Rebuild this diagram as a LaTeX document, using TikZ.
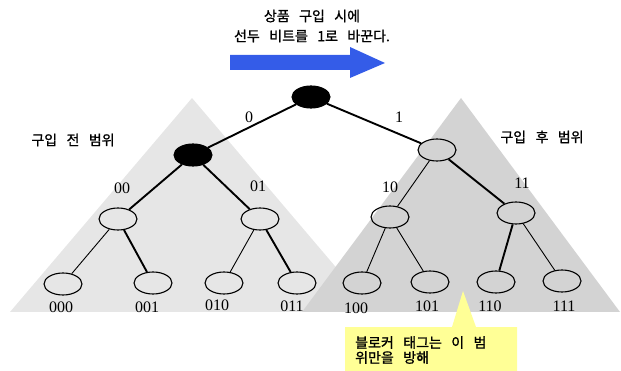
\documentclass[tikz,border=0pt]{standalone}
\usepackage{fontspec}
\setmainfont{Liberation Serif}
\newfontfamily\kr[WordSpace=3,FakeBold=1.2]{Noto Sans CJK KR}
\usetikzlibrary{shapes.geometric}
\definecolor{lefttri}{RGB}{230,230,230}
\definecolor{righttri}{RGB}{211,211,211}
\definecolor{arrowblue}{RGB}{52,92,232}
\definecolor{calloutyellow}{RGB}{255,255,150}
\begin{document}
\begin{tikzpicture}[x=1pt,y=-1pt,
  tnode/.style={ellipse,draw=black,line width=1.1pt,minimum width=38pt,minimum height=22pt,inner sep=0pt},
  bnode/.style={tnode,fill=black},
  heavy/.style={line width=1.9pt},
  light/.style={line width=0.9pt},
  digit/.style={font=\fontsize{16}{16}\selectfont,inner sep=0pt},
  krtext/.style={font=\kr\fontsize{14}{16}\selectfont,inner sep=0pt}
]
\useasboundingbox (0,0) rectangle (621,371);
% range triangles
\fill[lefttri] (192,98) -- (10,312) -- (374,312) -- cycle;
\fill[righttri] (461,98) -- (302,312) -- (620,312) -- cycle;
% blue arrow
\fill[arrowblue] (230,55) -- (350,55) -- (350,47) -- (385,63) -- (350,78) -- (350,70) -- (230,70) -- cycle;
% callout
\fill[calloutyellow] (345,327) -- (452,327) -- (463,291) -- (476,327) -- (517,327) -- (517,371) -- (345,371) -- cycle;
% nodes
\node[bnode] (r) at (311,97) {};
\node[bnode] (n0) at (193,155) {};
\node[tnode,fill=righttri] (n1) at (437,150) {};
\node[tnode] (n00) at (118,219) {};
\node[tnode] (n01) at (260,219) {};
\node[tnode] (n10) at (390,217) {};
\node[tnode] (n11) at (516,213) {};
\node[tnode] (n000) at (63,284) {};
\node[tnode] (n001) at (153,283) {};
\node[tnode] (n010) at (224,283) {};
\node[tnode] (n011) at (297,283) {};
\node[tnode] (n100) at (362,283) {};
\node[tnode] (n101) at (430,282) {};
\node[tnode] (n110) at (496,282) {};
\node[tnode] (n111) at (562,281) {};
% edges
\draw[heavy] (r) -- (n0);
\draw[heavy] (r) -- (n1);
\draw[heavy] (n0) -- (n00);
\draw[heavy] (n0) -- (n01);
\draw[light] (n1) -- (n10);
\draw[heavy] (n1) -- (n11);
\draw[light] (n00) -- (n000);
\draw[heavy] (n00) -- (n001);
\draw[light] (n01) -- (n010);
\draw[heavy] (n01) -- (n011);
\draw[light] (n10) -- (n100);
\draw[light] (n10) -- (n101);
\draw[heavy] (n11) -- (n110);
\draw[light] (n11) -- (n111);
% edge labels
\node[digit] (l0) at (249,117) {0};
\node[digit] (l1) at (399,117) {1};
\node[digit] (l00) at (122,188) {00};
\node[digit] (l01) at (258,186) {01};
\node[digit] (l10) at (390,187) {10};
\node[digit] (l11) at (522,183) {11};
% leaf labels
\node[digit] (t000) at (61,307) {000};
\node[digit] (t001) at (147,307) {001};
\node[digit] (t010) at (217,305) {010};
\node[digit] (t011) at (292,306) {011};
\node[digit] (t100) at (356,308) {100};
\node[digit] (t101) at (427,306) {101};
\node[digit] (t110) at (490,306) {110};
\node[digit] (t111) at (564,306) {111};
% texts
\node[krtext] (top1) at (312,16) {상품 구입 시에};
\node[krtext] (top2) at (312,36) {선두 비트를 1로 바꾼다.};
\node[krtext] (before) at (73,140) {구입 전 범위};
\node[krtext] (after) at (542,137) {구입 후 범위};
\node[krtext,align=left,anchor=west,font=\kr\fontsize{14}{15}\selectfont] (note) at (355,350) {블로커 태그는 이 범\\위만을 방해};
\end{tikzpicture}
\end{document}
